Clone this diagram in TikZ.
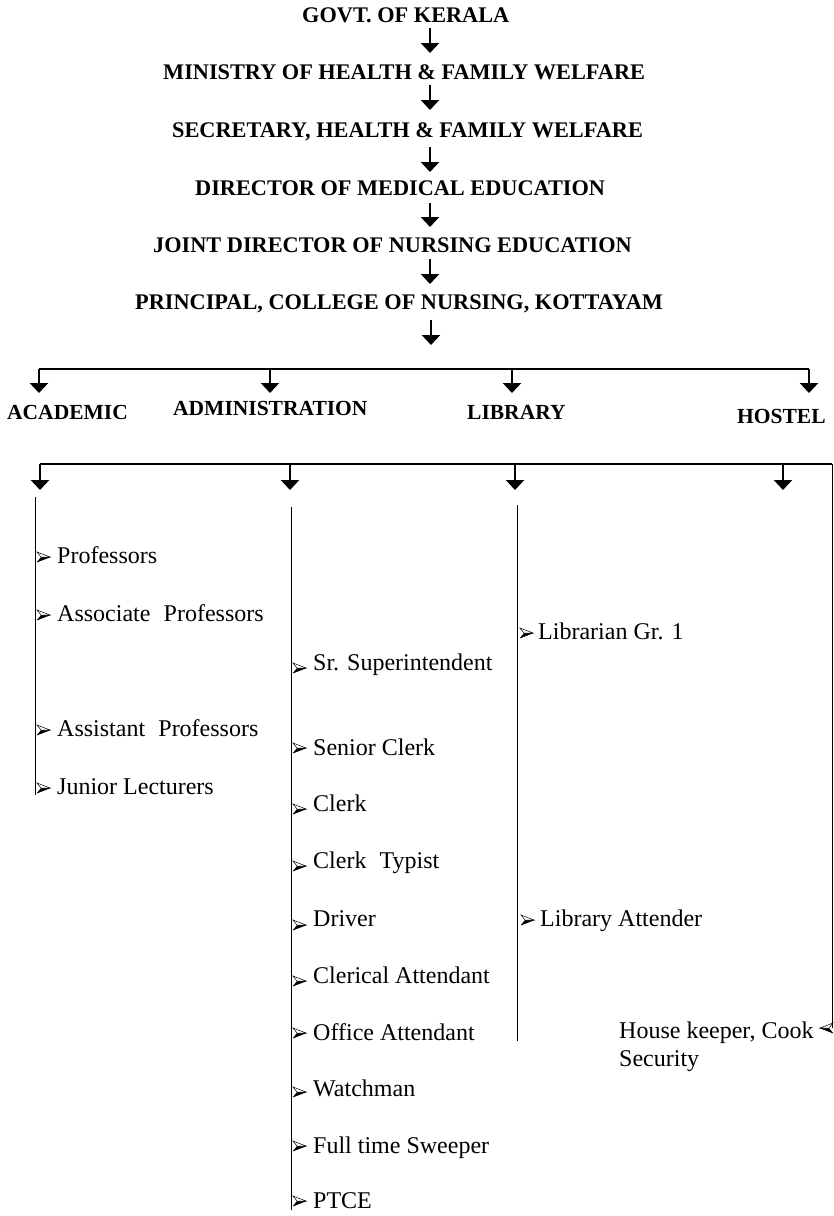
\documentclass[tikz,border=0pt]{standalone}
\usepackage{fontspec}
\setmainfont{Liberation Serif}[BoldFont={Liberation Serif Bold}]
\usetikzlibrary{arrows.meta}
\tikzset{
  head/.style={anchor=base west, inner sep=0pt, font=\fontsize{22.3}{26}\selectfont\bfseries},
  cat/.style={anchor=base west, inner sep=0pt, font=\fontsize{21.5}{25}\selectfont\bfseries},
  item/.style={anchor=base west, inner sep=0pt, font=\fontsize{24}{28}\selectfont},
  arr/.style={line width=2.8pt, -{Triangle[width=18pt,length=10pt]}},
  bar/.style={line width=1.3pt},
  colline/.style={line width=1pt},
  bl/.pic={
    \fill[black] (0,5) -- (13,0) -- (4,0) -- cycle;
    \draw[line width=0.5pt, fill=white] (0,-5) -- (13,0) -- (4,0) -- cycle;
    \draw[line width=0.6pt] (0,5) -- (13,0);
  }
}
\begin{document}
\begin{tikzpicture}[x=1pt,y=-1pt]
\useasboundingbox (0,0) rectangle (834,1216);
% headings
\node[head] (h1) at (302,22.5) {GOVT. OF KERALA};
\node[head] (h2) at (163,79.5) {MINISTRY OF HEALTH \& FAMILY WELFARE};
\node[head] (h3) at (172,137.5) {SECRETARY, HEALTH \& FAMILY WELFARE};
\node[head] (h4) at (195,195.5) {DIRECTOR OF MEDICAL EDUCATION};
\node[head] (h5) at (153,252.5) {JOINT DIRECTOR OF NURSING EDUCATION};
\node[head] (h6) at (135,309.5) {PRINCIPAL, COLLEGE OF NURSING, KOTTAYAM};
% chain arrows
\coordinate (a1s) at (430,28);  \coordinate (a1e) at (430,53);
\coordinate (a2s) at (430,85);  \coordinate (a2e) at (430,110);
\coordinate (a3s) at (430,147); \coordinate (a3e) at (430,172);
\coordinate (a4s) at (430,203); \coordinate (a4e) at (430,227);
\coordinate (a5s) at (430,259); \coordinate (a5e) at (430,284);
\coordinate (a6s) at (431,320); \coordinate (a6e) at (431,345);
\draw[arr] (a1s) -- (a1e);
\draw[arr] (a2s) -- (a2e);
\draw[arr] (a3s) -- (a3e);
\draw[arr] (a4s) -- (a4e);
\draw[arr] (a5s) -- (a5e);
\draw[arr] (a6s) -- (a6e);
% first bar
\coordinate (b1l) at (39,369); \coordinate (b1r) at (809,369);
\draw[bar] (b1l) -- (b1r);
\coordinate (c1) at (39,369);  \coordinate (c2) at (270,369);
\coordinate (c3) at (512,369); \coordinate (c4) at (809,369);
\draw[arr] (c1) -- ++(0,24);
\draw[arr] (c2) -- ++(0,24);
\draw[arr] (c3) -- ++(0,24);
\draw[arr] (c4) -- ++(0,24);
% categories
\node[cat] (academic) at (7,419) {ACADEMIC};
\node[cat] (admin) at (173,415) {ADMINISTRATION};
\node[cat] (library) at (467,419) {LIBRARY};
\node[cat] (hostel) at (737,423) {HOSTEL};
% second bar
\coordinate (b2l) at (40,464); \coordinate (b2r) at (832,464);
\draw[bar] (b2l) -- (b2r);
\coordinate (d1) at (40,464);  \coordinate (d2) at (290,464);
\coordinate (d3) at (515,464); \coordinate (d4) at (783,464);
\draw[arr] (d1) -- ++(0,26);
\draw[arr] (d2) -- ++(0,26);
\draw[arr] (d3) -- ++(0,26);
\draw[arr] (d4) -- ++(0,26);
\coordinate (hend) at (832,1028);
\draw[colline] (b2r) -- (hend);
% column lines
\draw[colline] (35,497) -- (35,795);
\draw[colline] (291,507) -- (291,1210);
\draw[colline] (517,505) -- (517,1041);
% academic items
\foreach \t/\y [count=\i] in {Professors/555, Associate\hspace{0.3em} Professors/613, Assistant\hspace{0.3em} Professors/728, Junior Lecturers/786}{
  \pic at (37,\y+2) {bl};
  \node[item] (aci\i) at (57,\y+8) {\t};
}
% administration items
\foreach \t/\y/\o [count=\i] in {Sr. Superintendent/662/6, Senior Clerk/747/1, Clerk/803/6, Clerk\hspace{0.3em} Typist/860/6, Driver/918/7, Clerical Attendant/975/6, Office Attendant/1032/1, Watchman/1088/4, Full time Sweeper/1145/1, PTCE/1200/1}{
  \pic at (293,\y+\o) {bl};
  \node[item] (adi\i) at (313,\y+8) {\t};
}
% library items
\pic at (520,633) {bl};
\node[item] (li1) at (538,639) {Librarian Gr. 1};
\pic at (521,920) {bl};
\node[item] (li2) at (540,926) {Library Attender};
% hostel items
\node[item] (hi1) at (619,1038) {House keeper, Cook};
\node[item] (hi2) at (619,1066) {Security};
\pic[xscale=-1] at (833,1028) {bl};
\end{tikzpicture}
\end{document}
